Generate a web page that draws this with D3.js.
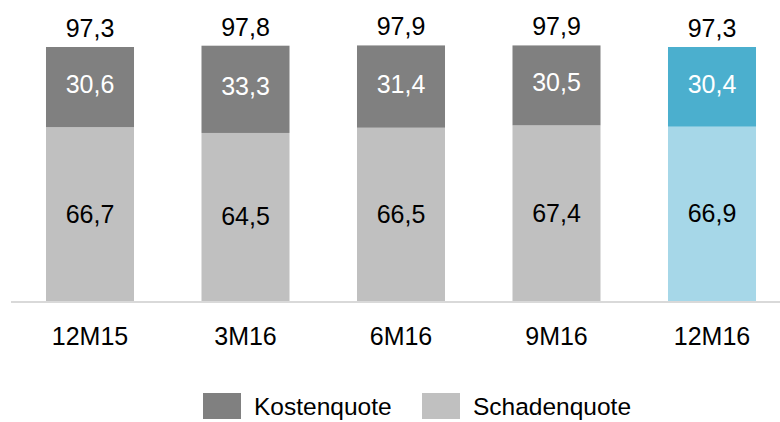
<!DOCTYPE html>
<html><head><meta charset="utf-8">
<script src="https://cdn.jsdelivr.net/npm/d3@7"></script>
<style>body{margin:0;background:#fff}svg{display:block}text{font-family:"Liberation Sans",Arial,sans-serif}</style>
</head><body><svg id="c" width="780" height="422"></svg>
<script>
const categories = ["12M15","3M16","6M16","9M16","12M16"];
const schadenquote = [66.7,64.5,66.5,67.4,66.9];
const kostenquote = [30.6,33.3,31.4,30.5,30.4];
const totals = [97.3,97.8,97.9,97.9,97.3];
const seriesNames = ["Kostenquote","Schadenquote"];
const highlight = "12M16";

const svg = d3.select("#c");
const x = d3.scaleBand().domain(categories).range([12.25, 789.75]).paddingInner(0.434).paddingOuter(0.217);
const y = d3.scaleLinear().domain([0, 97.3]).range([302, 47]);
const fmt = v => d3.format(".1f")(v).replace(".", ",");
const colK = c => c === highlight ? "#4bafce" : "#808080";
const colS = c => c === highlight ? "#a6d7e8" : "#c0c0c0";
const FS = 25;

const g = svg.append("g");
categories.forEach((c, i) => {
  const s = schadenquote[i], k = kostenquote[i];
  g.append("rect").attr("x", x(c)).attr("width", x.bandwidth())
    .attr("y", y(s)).attr("height", y(0) - y(s)).attr("fill", colS(c));
  g.append("rect").attr("x", x(c)).attr("width", x.bandwidth())
    .attr("y", y(s + k)).attr("height", y(s) - y(s + k)).attr("fill", colK(c));
  const cx = x(c) + x.bandwidth() / 2;
  g.append("text").attr("x", cx).attr("y", (y(0) + y(s)) / 2 + 8)
    .attr("text-anchor", "middle").attr("font-size", FS).attr("fill", "#000").text(fmt(s));
  g.append("text").attr("x", cx).attr("y", (y(s) + y(s + k)) / 2 + 6)
    .attr("text-anchor", "middle").attr("font-size", FS).attr("fill", "#fff").text(fmt(k));
  g.append("text").attr("x", cx).attr("y", y(s + k) - 10)
    .attr("text-anchor", "middle").attr("font-size", FS).attr("fill", "#000").text(fmt(totals[i]));
});

const xAxis = svg.append("g").attr("transform", "translate(0,302)")
  .call(d3.axisBottom(x).tickSize(0).tickPadding(25));
xAxis.select(".domain").attr("d", "M11,0H780").attr("stroke", "#d9d9d9").attr("stroke-width", 2);
xAxis.selectAll("text").attr("font-size", FS).attr("fill", "#000")
  .attr("font-family", '"Liberation Sans",Arial,sans-serif');

const legend = svg.append("g");
const lx = [203, 422];
const lc = ["#808080", "#c0c0c0"];
seriesNames.forEach((n, i) => {
  legend.append("rect").attr("x", lx[i]).attr("y", 393).attr("width", 38).attr("height", 26).attr("fill", lc[i]);
  legend.append("text").attr("x", lx[i] + 51).attr("y", 415).attr("font-size", 24.5).attr("fill", "#000").text(n);
});
</script></body></html>
